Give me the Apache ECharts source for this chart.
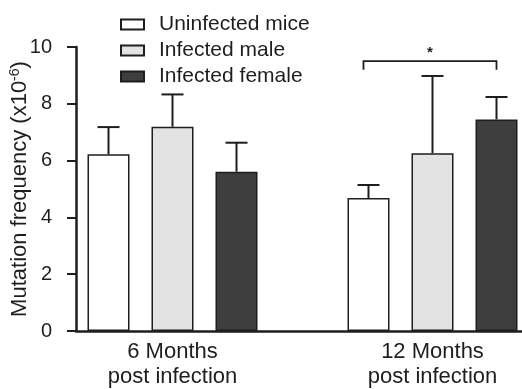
<!DOCTYPE html>
<html><head><meta charset="utf-8">
<script src="https://cdn.jsdelivr.net/npm/echarts@6/dist/echarts.min.js"></script>
<style>html,body{margin:0;padding:0;background:#fff}#c{width:522px;height:389px}</style>
</head><body><div id="c"></div>
<script>
// ---- data ----
const categories = ['6 Months\npost infection', '12 Months\npost infection'];
const seriesNames = ['Uninfected mice', 'Infected male', 'Infected female'];
const uninfected = [6.22, 4.68];
const infectedMale = [7.19, 6.26];
const infectedFemale = [5.61, 7.45];
const uninfectedUpper = [7.18, 5.14];
const infectedMaleUpper = [8.33, 8.98];
const infectedFemaleUpper = [6.63, 8.24];
const yTicks = [0, 2, 4, 6, 8, 10];
const sigCategory = 1, sigFrom = 0, sigTo = 2, sigLevel = 9.5, sigDrop = 9.2, sigMark = '*';

// ---- styles ----
const FONT = '"Liberation Sans", Arial, sans-serif';
const INK = '#1e1e1e';
const BAR_W = 42, GAP_PX = 22;
const fills = ['#ffffff', '#e3e3e3', '#3e3e3e'];
const means = [uninfected, infectedMale, infectedFemale];
const uppers = [uninfectedUpper, infectedMaleUpper, infectedFemaleUpper];
const offsetOf = i => (i - 1) * (BAR_W + GAP_PX);

const barSeries = seriesNames.map((name, i) => ({
  name, type: 'bar', xAxisIndex: 0, yAxisIndex: 0,
  data: means[i], barWidth: BAR_W, barGap: (GAP_PX / BAR_W * 100) + '%',
  itemStyle: { color: fills[i], borderColor: INK, borderWidth: 1.5 },
  emphasis: { disabled: true }, z: 2
}));

const errSeries = seriesNames.map((name, i) => ({
  type: 'custom', xAxisIndex: 0, yAxisIndex: 0, silent: true, z: 3,
  data: means[i].map((m, k) => [k, m, uppers[i][k]]),
  renderItem: (params, api) => {
    const top = api.coord([api.value(0), api.value(1)]);
    const up = api.coord([api.value(0), api.value(2)]);
    const x = top[0] + offsetOf(i);
    return { type: 'group', children: [
      { type: 'line', shape: { x1: x, y1: top[1], x2: x, y2: up[1] }, style: { stroke: INK, lineWidth: 2 } },
      { type: 'line', shape: { x1: x - 11, y1: up[1], x2: x + 11, y2: up[1] }, style: { stroke: INK, lineWidth: 2 } }
    ]};
  }
}));

const bracketSeries = {
  type: 'custom', xAxisIndex: 0, yAxisIndex: 0, silent: true, z: 3,
  data: [[sigCategory, sigLevel, sigDrop]],
  renderItem: (params, api) => {
    const p = api.coord([api.value(0), api.value(1)]);
    const d = api.coord([api.value(0), api.value(2)]);
    const x1 = p[0] + offsetOf(sigFrom) - 5, x2 = p[0] + offsetOf(sigTo);
    return { type: 'group', children: [
      { type: 'polyline', shape: { points: [[x1, d[1]], [x1, p[1]], [x2, p[1]], [x2, d[1]]] }, style: { stroke: INK, lineWidth: 1.8, fill: null } },
      { type: 'text', style: { text: sigMark, x: (x1 + x2) / 2, y: p[1] - 1, align: 'center', verticalAlign: 'bottom', font: 'bold 15px ' + FONT, fill: INK } }
    ]};
  }
};

const chart = echarts.init(document.getElementById('c'), null, { renderer: 'canvas' });
chart.setOption({
  animation: false,
  backgroundColor: '#fff',
  legend: {
    data: seriesNames, orient: 'vertical', left: 115, top: 9,
    itemWidth: 23, itemHeight: 10, itemGap: 5, icon: 'rect',
    selectedMode: false,
    textStyle: { fontFamily: FONT, fontSize: 21, lineHeight: 21, color: INK, padding: [0, 0, 0, 10] }
  },
  grid: [
    { left: 42.5, top: 47, width: 520, height: 284, containLabel: false, outerBoundsMode: 'none' },
    { left: 76, right: 0, top: 47, height: 284, containLabel: false, outerBoundsMode: 'none' }
  ],
  xAxis: [
    { type: 'category', gridIndex: 0, data: categories,
      axisLine: { show: false }, axisTick: { show: false },
      axisLabel: { fontFamily: FONT, fontSize: 22, lineHeight: 25, color: INK, margin: 8 } },
    { type: 'value', gridIndex: 1, min: 0, max: 1,
      axisLine: { show: true, lineStyle: { color: INK, width: 2.5 } },
      axisTick: { show: false }, axisLabel: { show: false }, splitLine: { show: false } }
  ],
  yAxis: [
    { type: 'value', gridIndex: 0, min: yTicks[0], max: yTicks[yTicks.length - 1], interval: 2, show: false },
    { type: 'value', gridIndex: 1, min: yTicks[0], max: yTicks[yTicks.length - 1], interval: 2,
      axisLine: { show: true, lineStyle: { color: INK, width: 2.5 } },
      axisTick: { show: true, length: 9, lineStyle: { color: INK, width: 2 } },
      axisLabel: { fontFamily: FONT, fontSize: 20, color: INK, margin: 24 },
      splitLine: { show: false },
      name: 'Mutation frequency (x10{sup|-6})',
      nameLocation: 'middle', nameRotate: 90, nameGap: 44, nameMoveOverlap: false,
      nameTextStyle: { fontFamily: FONT, fontSize: 22, color: INK,
        rich: { sup: { fontFamily: FONT, fontSize: 14, color: INK, verticalAlign: 'top', padding: [0, 0, 10, 0] } } } }
  ],
  series: [...barSeries, ...errSeries, bracketSeries]
});
</script>
</body></html>
